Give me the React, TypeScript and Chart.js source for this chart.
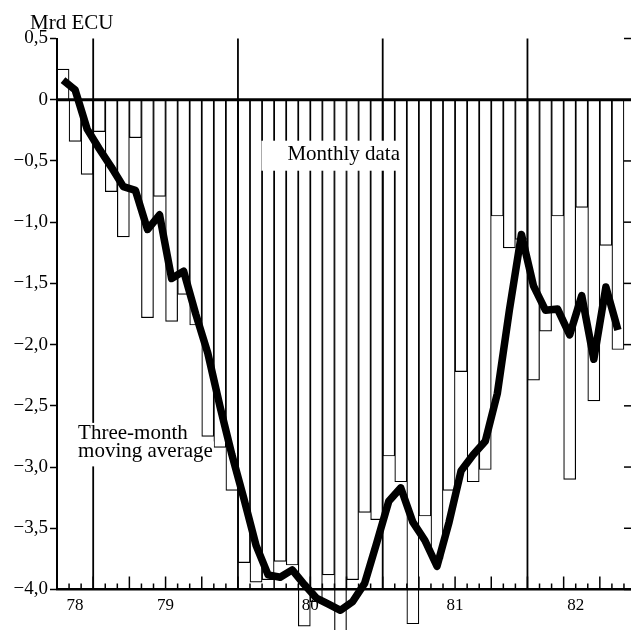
import React, { useEffect, useRef } from "react";
import { Chart, registerables } from "chart.js";

Chart.register(...registerables);

// ---- data -------------------------------------------------------------
const months = [
  "1978-10", "1978-11", "1978-12",
  "1979-01", "1979-02", "1979-03", "1979-04", "1979-05", "1979-06",
  "1979-07", "1979-08", "1979-09", "1979-10", "1979-11", "1979-12",
  "1980-01", "1980-02", "1980-03", "1980-04", "1980-05", "1980-06",
  "1980-07", "1980-08", "1980-09", "1980-10", "1980-11", "1980-12",
  "1981-01", "1981-02", "1981-03", "1981-04", "1981-05", "1981-06",
  "1981-07", "1981-08", "1981-09", "1981-10", "1981-11", "1981-12",
  "1982-01", "1982-02", "1982-03", "1982-04", "1982-05", "1982-06",
  "1982-07", "1982-08",
];

// Monthly data, Mrd ECU
const monthlyData = [
  0.25, -0.34, -0.61,
  -0.26, -0.75, -1.12, -0.31, -1.78, -0.79, -1.81, -1.59, -1.84, -2.75, -2.84, -3.19,
  -3.78, -3.94, -3.92, -3.77, -3.8, -4.3, -4.1, -3.88, -4.53, -3.92, -3.37, -3.43,
  -2.91, -3.12, -4.28, -3.4, -3.75, -3.19, -2.22, -3.12, -3.02, -0.95, -1.21, -1.14,
  -2.29, -1.89, -0.95, -3.1, -0.88, -2.46, -1.19, -2.04,
];

// Three-month moving average, Mrd ECU
const movingAverage = [
  0.16, 0.08, -0.24,
  -0.4, -0.55, -0.71, -0.74, -1.06, -0.94, -1.46, -1.4, -1.75, -2.07, -2.5, -2.9,
  -3.26, -3.64, -3.88, -3.9, -3.84, -3.96, -4.07, -4.12, -4.17, -4.1, -3.95, -3.62,
  -3.28, -3.17, -3.45, -3.6, -3.81, -3.45, -3.03, -2.9, -2.79, -2.4, -1.72, -1.1,
  -1.52, -1.72, -1.71, -1.92, -1.6, -2.12, -1.53, -1.88,
];

const yearLabels = ["78", "79", "80", "81", "82"];
const yTickValues = [-4, -3.5, -3, -2.5, -2, -1.5, -1, -0.5, 0, 0.5];
const yTickLabels = ["−4,0", "−3,5", "−3,0", "−2,5", "−2,0", "−1,5", "−1,0", "−0,5", "0", "0,5"];

const unitLabel = "Mrd ECU";
const barsLabel = "Monthly data";
const lineLabel = ["Three-month", "moving average"];

// annotation anchors in data coordinates (x = month index, y = value)
const barsLabelAt = { x: 18.6, y: -0.49 };
const lineLabelAt = { x: 1.25, y: -2.77 };

// ---- derived from the categories -------------------------------------
const yearOf = (m: string) => m.slice(2, 4);
const monthOf = (m: string) => parseInt(m.slice(5), 10);

const yearCenters = yearLabels.map((y) => {
  const idx = months.map((m, i) => (yearOf(m) === y ? i : -1)).filter((i) => i >= 0);
  return (idx[0] + idx[idx.length - 1]) / 2;
});
const yearStarts = months
  .map((m, i) => (i > 0 && yearOf(m) !== yearOf(months[i - 1]) ? i - 0.5 : null))
  .filter((v) => v !== null) as number[];

const SERIF = '"Liberation Serif", "Times New Roman", serif';

const decorPlugin = {
  id: "decor",
  afterDatasetDraw(chart: any, args: any) {
    if (args.index !== 0) return;
    const ctx = chart.ctx as CanvasRenderingContext2D;
    const a = chart.chartArea;
    const xs = chart.scales.x;
    const ys = chart.scales.y;
    const seg = (x1: number, y1: number, x2: number, y2: number) => {
      ctx.beginPath();
      ctx.moveTo(x1, y1);
      ctx.lineTo(x2, y2);
      ctx.stroke();
    };
    ctx.save();
    ctx.strokeStyle = "#000";
    // year dividers
    ctx.lineWidth = 1.8;
    yearStarts.forEach((v) => {
      const px = xs.getPixelForValue(v);
      seg(px, a.top, px, a.bottom);
    });
    // month ticks on the bottom axis
    ctx.lineWidth = 1.5;
    for (let i = 1; i <= months.length; i++) {
      const m = i < months.length ? monthOf(months[i]) : (monthOf(months[i - 1]) % 12) + 1;
      const px = xs.getPixelForValue(i - 0.5);
      const len = (m - 1) % 3 === 0 ? 13 : 6;
      seg(px, a.bottom, px, a.bottom - len);
    }
    // right-hand ticks
    ctx.lineWidth = 1.5;
    yTickValues.forEach((v) => {
      const py = ys.getPixelForValue(v);
      seg(a.right - 6, py, a.right + 1, py);
    });
    // zero line
    ctx.lineWidth = 3;
    const y0 = ys.getPixelForValue(0);
    seg(a.left, y0, a.right + 1, y0);

    // labels with white boxes
    ctx.font = `21px ${SERIF}`;
    ctx.textBaseline = "alphabetic";
    ctx.textAlign = "left";
    const bx = xs.getPixelForValue(barsLabelAt.x);
    const by = ys.getPixelForValue(barsLabelAt.y);
    const bw = ctx.measureText(barsLabel).width;
    ctx.fillStyle = "#fff";
    ctx.fillRect(bx - 26, by - 19, bw + 29, 30);
    ctx.fillStyle = "#000";
    ctx.fillText(barsLabel, bx, by);

    const lx = xs.getPixelForValue(lineLabelAt.x);
    const ly = ys.getPixelForValue(lineLabelAt.y);
    const lh = 18.5;
    lineLabel.forEach((t, i) => {
      const w = ctx.measureText(t).width;
      ctx.fillStyle = "#fff";
      ctx.fillRect(lx - 3, ly + i * lh - 16, w + 4, i === 0 ? 19 : 25);
    });
    ctx.fillStyle = "#000";
    lineLabel.forEach((t, i) => ctx.fillText(t, lx, ly + i * lh));
    ctx.restore();
  },
  afterDraw(chart: any) {
    const ctx = chart.ctx as CanvasRenderingContext2D;
    const a = chart.chartArea;
    ctx.save();
    ctx.font = `21px ${SERIF}`;
    ctx.fillStyle = "#000";
    ctx.textBaseline = "alphabetic";
    ctx.textAlign = "left";
    ctx.fillText(unitLabel, a.left - 27, a.top - 10);
    ctx.restore();
  },
};

export default function App() {
  const ref = useRef<HTMLCanvasElement | null>(null);

  useEffect(() => {
    if (!ref.current) return;
    const chart = new Chart(ref.current, {
      type: "bar",
      data: {
        datasets: [
          {
            type: "bar",
            label: barsLabel,
            data: monthlyData.map((v, i) => ({ x: i, y: v })),
            backgroundColor: "#fff",
            borderColor: "#000",
            borderWidth: 1.2,
            borderSkipped: "start",
            barPercentage: 1,
            categoryPercentage: 1,
            clip: false,
            order: 2,
          } as any,
          {
            type: "line",
            label: lineLabel.join(" "),
            data: movingAverage.map((v, i) => ({ x: i, y: v })),
            borderColor: "#000",
            borderWidth: 7.5,
            pointRadius: 0,
            tension: 0,
            borderJoinStyle: "round",
            clip: false,
            order: 1,
          } as any,
        ],
      },
      options: {
        animation: false,
        responsive: false,
        maintainAspectRatio: false,
        layout: { padding: { top: 38.5, right: 1, left: 0, bottom: 0 } },
        plugins: {
          legend: { display: false },
          tooltip: { enabled: false },
          title: { display: false },
        },
        scales: {
          x: {
            type: "linear",
            position: "bottom",
            min: -0.5,
            max: 47,
            offset: false,
            afterBuildTicks: (s: any) => {
              s.ticks = yearCenters.map((v) => ({ value: v }));
            },
            afterFit: (s: any) => {
              s.height = 40.5;
            },
            grid: { display: false, drawTicks: false },
            border: { display: true, color: "#000", width: 2.5, z: 1 },
            ticks: {
              z: 1,
              autoSkip: false,
              maxRotation: 0,
              padding: 6,
              color: "#000",
              font: { family: SERIF, size: 17 },
              callback: (_v: any, i: number) => yearLabels[i],
            },
          },
          y: {
            type: "linear",
            min: -4,
            max: 0.5,
            afterBuildTicks: (s: any) => {
              s.ticks = yTickValues.map((v) => ({ value: v }));
            },
            afterFit: (s: any) => {
              s.width = 57;
            },
            grid: {
              display: true,
              drawOnChartArea: false,
              drawTicks: true,
              tickLength: 7,
              tickWidth: 1.5,
              tickColor: "#000",
              color: "#000",
            },
            border: { display: true, color: "#000", width: 2, z: 1 },
            ticks: {
              z: 1,
              padding: 2,
              color: "#000",
              font: { family: SERIF, size: 19 },
              callback: (_v: any, i: number) => yTickLabels[i],
            },
          },
        },
      } as any,
      plugins: [decorPlugin],
    });
    return () => chart.destroy();
  }, []);

  return (
    <div style={{ position: "absolute", left: 0, top: 0, width: 631, height: 630, background: "#fff" }}>
      <canvas ref={ref} width={631} height={630} style={{ width: 631, height: 630, display: "block" }} />
    </div>
  );
}
